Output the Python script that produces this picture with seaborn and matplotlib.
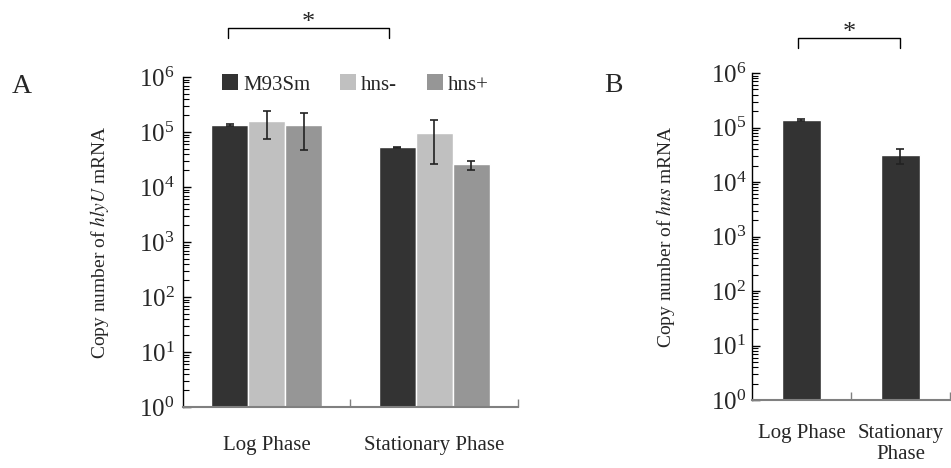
import matplotlib
matplotlib.use('Agg')
import matplotlib.pyplot as plt
import seaborn as sns
import pandas as pd
import numpy as np
from matplotlib.patches import Patch
from matplotlib.lines import Line2D
from matplotlib.ticker import LogLocator

# Panel A data: hlyU mRNA copy number
phases = ['Log Phase', 'Stationary Phase']
strains = ['M93Sm', 'hns-', 'hns+']
hlyu_mean = {'M93Sm': [1.34e5, 5.3e4], 'hns-': [1.6e5, 9.6e4], 'hns+': [1.34e5, 2.6e4]}
hlyu_lo = {'M93Sm': [1.28e5, 5.15e4], 'hns-': [7.4e4, 2.6e4], 'hns+': [4.8e4, 2.07e4]}
hlyu_hi = {'M93Sm': [1.40e5, 5.45e4], 'hns-': [2.45e5, 1.66e5], 'hns+': [2.25e5, 3.0e4]}

# Panel B data: hns mRNA copy number
phases_b = ['Log Phase', 'Stationary\nPhase']
hns_mean = [1.36e5, 3.1e4]
hns_lo = [1.30e5, 2.1e4]
hns_hi = [1.42e5, 4.0e4]

y_ticks = [1, 10, 100, 1e3, 1e4, 1e5, 1e6]

colors = {'M93Sm': '#333333', 'hns-': '#c0c0c0', 'hns+': '#969696'}

sns.set_style('white')
plt.rcParams['font.family'] = ['Liberation Serif', 'DejaVu Serif']
plt.rcParams['mathtext.fontset'] = 'stix'

fig = plt.figure(figsize=(9.51, 4.68), dpi=100)
axA = fig.add_axes([0.1924, 0.1303, 0.3523, 0.7051])
axB = fig.add_axes([0.7907, 0.1453, 0.2082, 0.6987])

rows = []
for s in strains:
    for i, p in enumerate(phases):
        rows.append({'phase': p, 'strain': s, 'copies': hlyu_mean[s][i]})
dfA = pd.DataFrame(rows)

sns.barplot(data=dfA, x='phase', y='copies', hue='strain', order=phases,
            hue_order=strains, palette=colors, width=0.66, saturation=1,
            errorbar=None, legend=False, ax=axA)
for cont, s in zip(axA.containers, strains):
    xs = [b.get_x() + b.get_width() / 2 for b in cont]
    m = np.array(hlyu_mean[s])
    yerr = [m - np.array(hlyu_lo[s]), np.array(hlyu_hi[s]) - m]
    axA.errorbar(xs, m, yerr=yerr, fmt='none', ecolor='#222222',
                 elinewidth=1.2, capsize=3, capthick=1.2)

dfB = pd.DataFrame({'phase': phases_b, 'copies': hns_mean})
sns.barplot(data=dfB, x='phase', y='copies', color='#333333', width=0.4,
            saturation=1, errorbar=None, ax=axB)
xsB = [b.get_x() + b.get_width() / 2 for b in axB.containers[0]]
mB = np.array(hns_mean)
axB.errorbar(xsB, mB, yerr=[mB - np.array(hns_lo), np.array(hns_hi) - mB],
             fmt='none', ecolor='#222222', elinewidth=1.2, capsize=3, capthick=1.2)

for ax, pad in [(axA, 21), (axB, 17)]:
    ax.set_yscale('log')
    ax.set_yticks(y_ticks)
    ax.yaxis.set_minor_locator(LogLocator(base=10, subs=np.arange(2, 10), numticks=20))
    ax.set_ylim(1, 1e6)
    ax.set_xlim(-0.5, 1.5)
    ax.set_xlabel('')
    sns.despine(ax=ax)
    ax.spines['left'].set_color('black')
    ax.spines['left'].set_linewidth(1.0)
    ax.spines['bottom'].set_color('#808080')
    ax.spines['bottom'].set_linewidth(1.5)
    ax.tick_params(axis='y', which='major', direction='in', length=6, width=1,
                   color='black', labelsize=18, left=True)
    ax.tick_params(axis='y', which='minor', direction='in', length=4, width=0.8,
                   color='black', left=True, labelleft=False)
    ax.set_xticks([0.5, 1.5], minor=True)
    ax.tick_params(axis='x', which='major', length=0, pad=pad, labelsize=15)
    ax.tick_params(axis='x', which='minor', direction='in', length=6, width=1,
                   color='#808080', bottom=True, labelbottom=False)

axA.tick_params(axis='y', which='major', pad=6)
axB.tick_params(axis='y', which='major', pad=4)
for lbl in axB.get_xticklabels():
    lbl.set_linespacing(1.15)

axA.set_ylabel(r'Copy number of $\mathit{hlyU}$ mRNA', fontsize=14, labelpad=20)
axB.set_ylabel(r'Copy number of $\mathit{hns}$ mRNA', fontsize=14, labelpad=24)

handles = [Patch(facecolor=colors[s], edgecolor='none') for s in strains]
axA.legend(handles, strains, ncol=3, loc='upper center', bbox_to_anchor=(0.515, 1.065),
           frameon=False, fontsize=15, handlelength=0.75, handleheight=0.8,
           handletextpad=0.25, columnspacing=1.45)

# significance brackets
def bracket(ax, x0, x1, y, drop, ystar):
    tr = ax.get_xaxis_transform()
    ax.add_line(Line2D([x0, x0, x1, x1], [y - drop, y, y, y - drop], transform=tr,
                       color='black', lw=1, clip_on=False))
    ax.text((x0 + x1) / 2, ystar, '*', transform=tr, ha='center', va='center',
            fontsize=19)

bracket(axA, -0.232, 0.732, 1.148, 0.03, 1.163)
bracket(axB, -0.03, 1.0, 1.107, 0.03, 1.122)

fig.text(0.023, 0.815, 'A', fontsize=20, ha='center', va='center')
fig.text(0.645, 0.818, 'B', fontsize=20, ha='center', va='center')

fig.savefig('out.png', dpi=100)
